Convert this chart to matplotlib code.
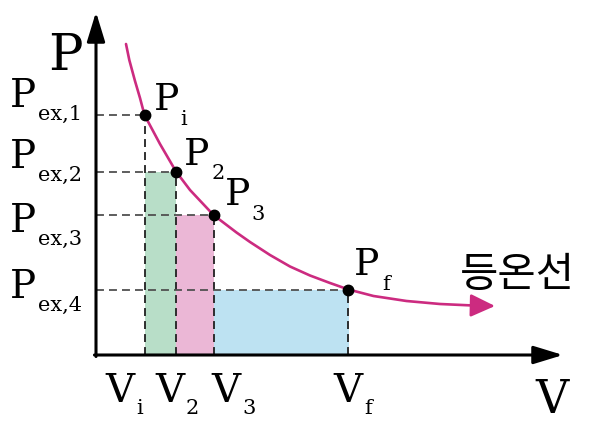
import matplotlib
matplotlib.use("Agg")
import matplotlib.pyplot as plt

W, H = 608, 426

# isotherm (V, P in arbitrary units)
curve_v = [0.60, 0.666, 0.78, 0.88, 0.97, 1.28, 1.60, 1.88, 2.35, 2.81, 3.08,
           3.48, 3.88, 4.28, 4.68, 5.05, 5.55, 6.21, 6.88, 7.54]
curve_p = [6.22, 5.90, 5.48, 5.14, 4.80, 4.22, 3.67, 3.30, 2.80, 2.45, 2.26,
           2.00, 1.77, 1.59, 1.44, 1.31, 1.18, 1.08, 1.02, 0.99]
tip_v, tip_p = 7.98, 0.98

# states i, 2, 3, f
state_v = [0.97, 1.60, 2.35, 5.05]
state_p = [4.80, 3.67, 2.80, 1.31]

fill_colors = ["#B8DEC8", "#EBB7D6", "#BDE2F2"]
curve_color = "#CC2B80"

plt.rcParams['font.family'] = ['DejaVu Serif']

fig = plt.figure(figsize=(W / 100, H / 100), dpi=100)
ax = fig.add_axes([96 / W, (H - 355) / H, 467 / W, 343 / H])
ax.set_xlim(0, 467 / 50)
ax.set_ylim(0, 343 / 50)
ax.axis('off')

# work done in each step
lefts = state_v[:-1]
widths = [state_v[k + 1] - state_v[k] for k in range(3)]
heights = state_p[1:]
ax.bar(lefts, heights, width=widths, align='edge', color=fill_colors,
       linewidth=0, zorder=1)

# dashed guides
for v, p in zip(state_v, state_p):
    ax.plot([0, v], [p, p], color='#505050', lw=1.3, dashes=(4.4, 2.8), zorder=2)
    ax.plot([v, v], [0, p], color='#202020', lw=1.3, dashes=(4.4, 2.8), zorder=2)

# curve and its arrow
ax.plot(curve_v, curve_p, color=curve_color, lw=1.9, solid_capstyle='round',
        solid_joinstyle='round', zorder=3)
ax.annotate('', xy=(tip_v, tip_p), xytext=(curve_v[-1], curve_p[-1]),
            arrowprops=dict(arrowstyle='-|>,head_length=1.5,head_width=0.7',
                            color=curve_color, lw=1.9, shrinkA=0, shrinkB=0,
                            mutation_scale=10), zorder=3)

ax.plot(state_v, state_p, 'o', color='black', ms=7.5, zorder=4)

# axes with arrows (start a half line width back so the corner is closed)
for xy, xytext in [((1, 0), (-0.0033, 0)), ((0, 1), (0, -0.0044))]:
    ax.annotate('', xy=xy, xytext=xytext, xycoords='axes fraction',
                arrowprops=dict(arrowstyle='-|>,head_length=1.8,head_width=0.55',
                                color='black', lw=2.2, shrinkA=0, shrinkB=0,
                                mutation_scale=10), zorder=5)


def put(x, y, s, size, **kw):
    fig.text(x / W, 1 - y / H, s, fontsize=size, ha='left', va='baseline', **kw)


# axis names
put(48, 70, 'P', 37)
put(535, 413, 'V', 33)

# external pressures
pex_base = [107, 168, 232, 298]
for k, b in enumerate(pex_base):
    put(10, b, 'P', 28)
    put(38, b + 13, 'ex,%d' % (k + 1), 15)

# states on the curve
put(154, 110, 'P', 27)
put(180, 125, 'i', 15)
put(184, 165, 'P', 27)
put(212, 179, '2', 15)
put(225, 205, 'P', 27)
put(251, 220, '3', 15)
put(354, 275, 'P', 27)
put(382, 290, 'f', 15)

# volumes
vol_x = [105, 155, 211, 333]
vol_sub = ['i', '2', '3', 'f']
for x, s in zip(vol_x, vol_sub):
    put(x, 402, 'V', 29)
    put(x + 31, 414, s, 15)

fig.text(460 / W, 1 - 276 / H, '등온선', fontsize=30, ha='left', va='center',
         family=['Noto Sans CJK KR', 'DejaVu Sans'])

fig.savefig('out.png', dpi=100)
